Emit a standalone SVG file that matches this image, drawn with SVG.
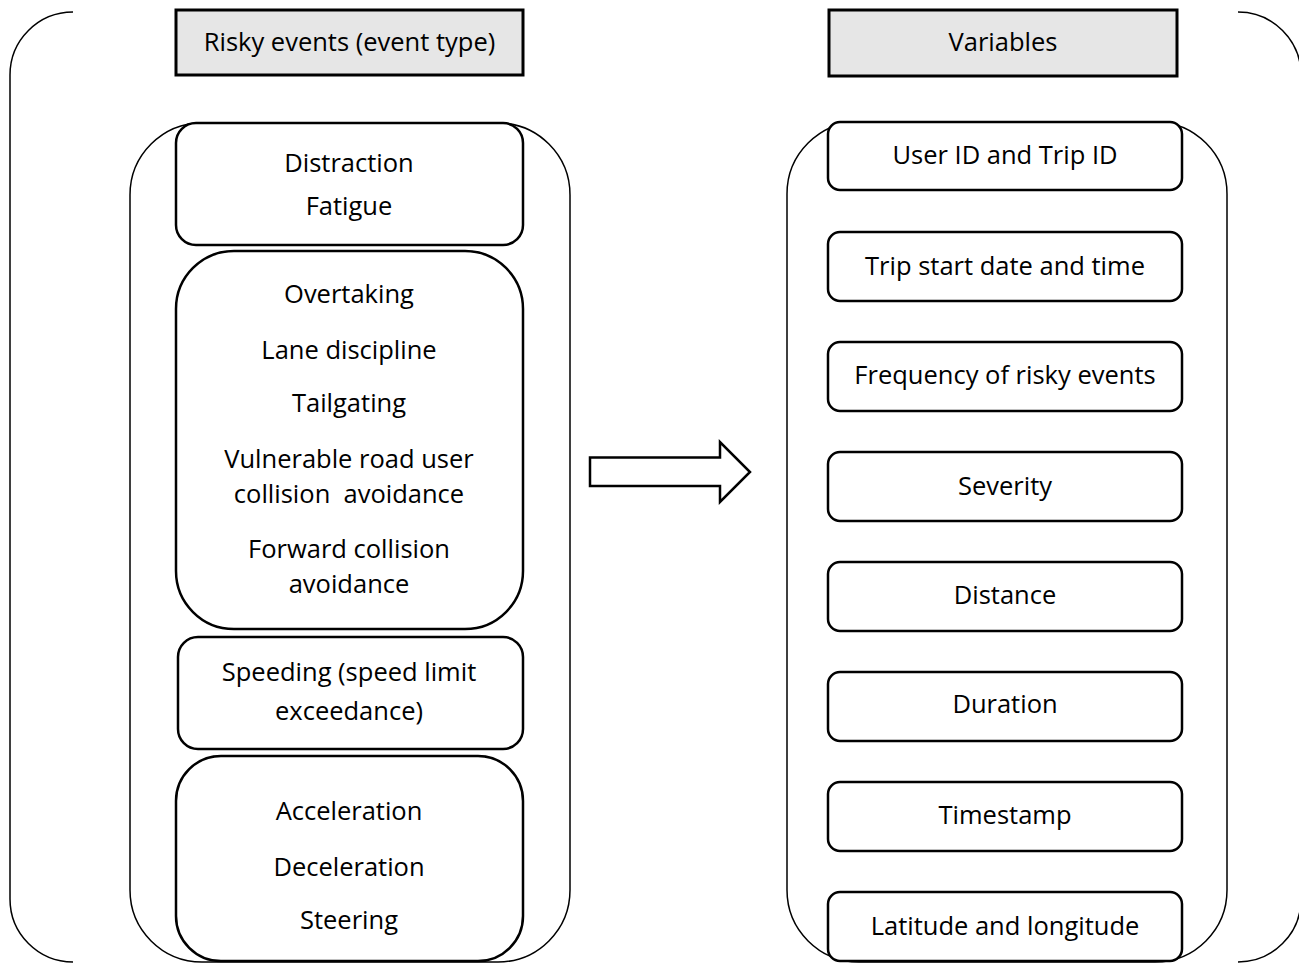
<svg xmlns="http://www.w3.org/2000/svg" width="1299" height="963" viewBox="0 0 1299 963">
  <style>
    .bracket { fill: none; stroke: #000; stroke-width: 1.5; }
    .hdr { fill: #e6e6e6; stroke: #000; stroke-width: 3; }
    .box { fill: #fff; stroke: #000; stroke-width: 2.5; }
    .lbl { font-family: "Open Sans", "Liberation Sans", sans-serif; font-size: 25.5px; fill: #000; text-anchor: middle; dominant-baseline: central; }
  </style>
  <rect width="1299" height="963" fill="#fff"/>

  <!-- outer double bracket -->
  <g id="outer-frame">
    <path class="bracket" d="M73,12 A63,63 0 0 0 10,75 L10,899 A63,63 0 0 0 73,962"/>
    <path class="bracket" d="M1238,12 A63,63 0 0 1 1301,75 L1301,899 A63,63 0 0 1 1238,962"/>
  </g>

  <!-- column headers -->
  <g id="hdr-events">
    <rect class="hdr" x="176" y="10" width="347" height="65"/>
    <text class="lbl" x="349.5" y="41">Risky events (event type)</text>
  </g>
  <g id="hdr-variables">
    <rect class="hdr" x="829" y="10" width="348" height="66"/>
    <text class="lbl" x="1003" y="41">Variables</text>
  </g>

  <!-- column containers -->
  <g id="events-container">
    <rect class="bracket" x="130" y="123" width="440" height="839" rx="72" ry="72"/>
  </g>
  <g id="variables-container">
    <rect class="bracket" x="787" y="122" width="440" height="840" rx="72" ry="72"/>
  </g>

  <!-- event type groups -->
  <g id="ev-attention">
    <rect class="box" x="176" y="123" width="347" height="122" rx="20"/>
    <text class="lbl" x="349" y="162">Distraction</text>
    <text class="lbl" x="349" y="205">Fatigue</text>
  </g>
  <g id="ev-manoeuvre">
    <rect class="box" x="176" y="251" width="347" height="378" rx="58"/>
    <text class="lbl" x="349" y="293">Overtaking</text>
    <text class="lbl" x="349" y="349">Lane discipline</text>
    <text class="lbl" x="349" y="402">Tailgating</text>
    <text class="lbl" x="349" y="458">Vulnerable road user</text>
    <text class="lbl" x="349" y="493">collision&#160; avoidance</text>
    <text class="lbl" x="349" y="548">Forward collision</text>
    <text class="lbl" x="349" y="583">avoidance</text>
  </g>
  <g id="ev-speeding">
    <rect class="box" x="178" y="637" width="345" height="112" rx="20"/>
    <text class="lbl" x="349" y="671">Speeding (speed limit</text>
    <text class="lbl" x="349" y="710">exceedance)</text>
  </g>
  <g id="ev-dynamics">
    <rect class="box" x="176" y="756" width="347" height="205" rx="45"/>
    <text class="lbl" x="349" y="810">Acceleration</text>
    <text class="lbl" x="349" y="866">Deceleration</text>
    <text class="lbl" x="349" y="919">Steering</text>
  </g>

  <!-- connector -->
  <g id="connectors">
    <path fill="#fff" stroke="#000" stroke-width="2.5" stroke-linejoin="miter" d="M590,457.5 L720,457.5 L720,442 L750,472 L720,502 L720,486 L590,486 Z"/>
  </g>

  <!-- variables -->
  <g id="var-ids">
    <rect class="box" x="828" y="122" width="354" height="68" rx="12"/>
    <text class="lbl" x="1005" y="154">User ID and Trip ID</text>
  </g>
  <g id="var-start">
    <rect class="box" x="828" y="232" width="354" height="69" rx="12"/>
    <text class="lbl" x="1005" y="265">Trip start date and time</text>
  </g>
  <g id="var-frequency">
    <rect class="box" x="828" y="342" width="354" height="69" rx="12"/>
    <text class="lbl" x="1005" y="374">Frequency of risky events</text>
  </g>
  <g id="var-severity">
    <rect class="box" x="828" y="452" width="354" height="69" rx="12"/>
    <text class="lbl" x="1005" y="485">Severity</text>
  </g>
  <g id="var-distance">
    <rect class="box" x="828" y="562" width="354" height="69" rx="12"/>
    <text class="lbl" x="1005" y="594">Distance</text>
  </g>
  <g id="var-duration">
    <rect class="box" x="828" y="672" width="354" height="69" rx="12"/>
    <text class="lbl" x="1005" y="703">Duration</text>
  </g>
  <g id="var-timestamp">
    <rect class="box" x="828" y="782" width="354" height="69" rx="12"/>
    <text class="lbl" x="1005" y="814">Timestamp</text>
  </g>
  <g id="var-location">
    <rect class="box" x="828" y="892" width="354" height="69" rx="12"/>
    <text class="lbl" x="1005" y="925">Latitude and longitude</text>
  </g>
</svg>
